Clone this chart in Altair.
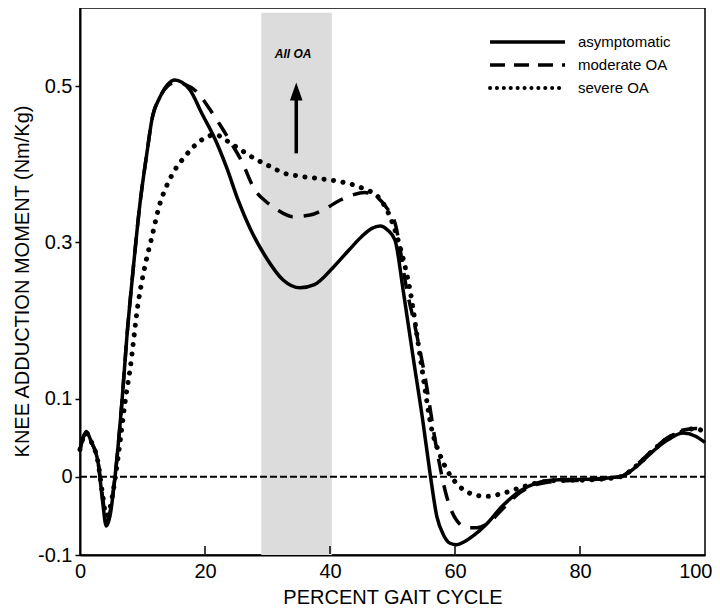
import altair as alt
import pandas as pd

# ---------------- data ----------------
x_asym = [0, 0.5, 1.0, 1.8, 2.9, 3.6, 4.2, 4.8, 5.6, 6.7, 7.5, 8.5, 9.6, 10.7, 11.5, 12.8, 14.0,
          15.2, 16.3, 17.6, 19.5, 21.9, 23.5, 25.3, 27.2, 29.6, 32.5, 35.2, 37.5, 40.5, 43.0, 45.0,
          46.7, 48.0, 49.2, 50.4, 51.7, 53.3, 54.9, 56.0, 57.1, 58.2, 59.2, 60.3, 61.5, 63.0, 65.1,
          67.5, 70.4, 73.0, 75.7, 81.0, 86.4, 89.0, 91.7, 94.0, 96.5, 98.5, 100]
y_asym = [0.035, 0.05, 0.058, 0.045, 0.018, -0.03, -0.063, -0.05, 0.0, 0.095, 0.179, 0.265, 0.35,
          0.414, 0.457, 0.486, 0.502, 0.508, 0.505, 0.495, 0.465, 0.427, 0.395, 0.354, 0.318, 0.283,
          0.252, 0.242, 0.246, 0.268, 0.29, 0.307, 0.318, 0.321, 0.316, 0.303, 0.239, 0.153, 0.069,
          0.005, -0.051, -0.075, -0.085, -0.087, -0.083, -0.075, -0.06, -0.038, -0.018, -0.008,
          -0.004, -0.003, 0.0, 0.013, 0.033, 0.047, 0.056, 0.052, 0.044]

x_mod = [0, 0.5, 1.0, 1.8, 2.9, 3.6, 4.2, 4.8, 5.6, 6.7, 7.5, 8.5, 9.6, 10.7, 11.5, 12.8, 14.0,
         15.4, 16.6, 18.9, 20.8, 22.6, 24.2, 25.8, 28.0, 29.8, 31.5, 34.1, 36.8, 39.0, 41.6, 43.7,
         45.5, 47.5, 49.0, 50.4, 52.3, 53.8, 55.2, 57.1, 58.7, 60.2, 61.9, 63.5, 65.5, 67.5, 70.4,
         73.0, 75.7, 81.0, 86.4, 89.0, 91.7, 94.0, 96.5, 98.5, 100]
y_mod = [0.035, 0.05, 0.057, 0.045, 0.018, -0.025, -0.055, -0.045, 0.0, 0.095, 0.179, 0.265, 0.35,
         0.414, 0.457, 0.486, 0.500, 0.505, 0.503, 0.491, 0.47, 0.448, 0.427, 0.405, 0.367, 0.352,
         0.342, 0.333, 0.335, 0.342, 0.354, 0.361, 0.364, 0.358, 0.345, 0.325, 0.239, 0.185, 0.128,
         0.034, -0.026, -0.055, -0.065, -0.065, -0.058, -0.042, -0.02, -0.01, -0.006, -0.004, 0.0,
         0.015, 0.035, 0.05, 0.06, 0.062, 0.058]

x_sev = [0, 0.5, 1.0, 1.8, 2.9, 3.6, 4.2, 4.8, 5.6, 6.5, 7.2, 8.0, 9.3, 10.4, 11.5, 12.8, 13.9,
         15.2, 16.8, 18.1, 20.3, 21.6, 23.5, 25.8, 28.0, 30.5, 32.5, 35.0, 37.9, 40.0, 42.1, 44.0,
         45.9, 47.2, 48.5, 49.6, 51.0, 52.8, 54.5, 56.3, 57.5, 58.7, 60.2, 62.4, 65.0, 67.7, 70.4,
         73.0, 75.7, 81.0, 86.4, 89.0, 91.7, 94.0, 96.5, 98.5, 100]
y_sev = [0.035, 0.05, 0.056, 0.045, 0.018, -0.022, -0.05, -0.04, -0.003, 0.05, 0.095, 0.137, 0.222,
         0.27, 0.307, 0.35, 0.373, 0.393, 0.41, 0.422, 0.435, 0.438, 0.43, 0.418, 0.407, 0.397,
         0.389, 0.385, 0.382, 0.38, 0.377, 0.373, 0.367, 0.362, 0.35, 0.333, 0.30, 0.239, 0.15,
         0.06, 0.03, 0.009, -0.008, -0.021, -0.025, -0.021, -0.014, -0.008, -0.005, -0.004, 0.0,
         0.014, 0.034, 0.049, 0.058, 0.062, 0.056]

series_names = ["asymptomatic", "moderate OA", "severe OA"]
band_x = [29.0, 40.3]
band_y = [-0.1, 0.594]
arrow_x = 34.6
arrow_y = [0.414, 0.486]
arrow_head_y = 0.493
label_x = 34.1
label_y = 0.541
label_text = "All OA"
x_ticks = [0, 20, 40, 60, 80, 100]
x_inner_ticks = [20, 40, 60, 80]
y_ticks = [-0.1, 0, 0.1, 0.3, 0.5]
zero_line = [0, 100]

FONT = "Liberation Sans"

xscale = alt.Scale(domain=[0, 100], nice=False, zero=False)
yscale = alt.Scale(domain=[-0.1, 0.6], nice=False, zero=False)

x_axis = alt.Axis(values=x_ticks, title="PERCENT GAIT CYCLE", ticks=False, tickSize=0,
                  labelPadding=6, grid=False, format="d", labelFlush=False,
                  labelAlign={"condition": {"test": "datum.value == 100", "value": "right"},
                              "value": "center"},
                  labelOffset={"condition": {"test": "datum.value == 100", "value": 7},
                               "value": 0},
                  titleY=48, titleBaseline="alphabetic", titleFontWeight="normal")
y_axis = alt.Axis(values=y_ticks, title="KNEE ADDUCTION MOMENT (Nm/Kg)", tickSize=5,
                  labelPadding=3, grid=False,
                  labelExpr="datum.value == 0 ? '0' : replace(format(datum.value, '.1f'), '\u2212', '-')",
                  titleX=-58, titleY=273, titleAngle=270, titleAlign="center",
                  titleBaseline="middle", titleFontWeight="normal")

X = alt.X("pct:Q", scale=xscale, axis=x_axis)
Y = alt.Y("moment:Q", scale=yscale, axis=y_axis)

# band
band_df = pd.DataFrame({"pct": [band_x[0]], "pct2": [band_x[1]],
                        "moment": [band_y[0]], "moment2": [band_y[1]]})
band = alt.Chart(band_df).mark_rect(color="#dcdcdc").encode(
    x=X, x2="pct2:Q", y=Y, y2="moment2:Q")

# zero line
zero_df = pd.DataFrame({"pct": zero_line, "moment": [0, 0]})
zero = alt.Chart(zero_df).mark_line(color="black", strokeWidth=2, strokeDash=[7, 3]).encode(x=X, y=Y)

# inward x ticks
tick_df = pd.DataFrame({"pct": x_inner_ticks})
ticks = alt.Chart(tick_df).mark_rule(color="black", strokeWidth=1.5).encode(
    x=X, y=alt.value(546), y2=alt.value(538))

def line(xs, ys, **kw):
    df = pd.DataFrame({"pct": xs, "moment": ys})
    return alt.Chart(df).mark_line(color="black", interpolate="monotone", **kw).encode(x=X, y=Y)

l_asym = line(x_asym, y_asym, strokeWidth=3.5)
l_mod = line(x_mod, y_mod, strokeWidth=3.5, strokeDash=[16, 11])
l_sev = line(x_sev, y_sev, strokeWidth=5, strokeDash=[0.1, 9.5], strokeCap="round")

# arrow + label
shaft_df = pd.DataFrame({"pct": [arrow_x], "moment": [arrow_y[0]], "moment2": [arrow_y[1]]})
shaft = alt.Chart(shaft_df).mark_rule(color="black", strokeWidth=3.5).encode(
    x=X, y=Y, y2="moment2:Q")
head_df = pd.DataFrame({"pct": [arrow_x], "moment": [arrow_head_y]})
head = alt.Chart(head_df).mark_point(shape="M0,-1L0.7,1L-0.7,1Z", filled=True, size=324,
                                     color="black", opacity=1, strokeWidth=0).encode(x=X, y=Y)
lab_df = pd.DataFrame({"pct": [label_x], "moment": [label_y], "t": [label_text]})
lab = alt.Chart(lab_df).mark_text(font=FONT, fontSize=12, fontStyle="italic", fontWeight="bold",
                                  color="black", align="center", baseline="middle").encode(
    x=X, y=Y, text="t:N")

# legend (drawn manually so line styles match)
leg_rows = [34, 57, 80]
leg_styles = [dict(strokeWidth=3.5),
              dict(strokeWidth=3.5, strokeDash=[15, 9]),
              dict(strokeWidth=4, strokeDash=[0.1, 6.8], strokeCap="round")]
leg_layers = []
leg_src = pd.DataFrame({"d": [0]})
for name, yy, st in zip(series_names, leg_rows, leg_styles):
    leg_layers.append(alt.Chart(leg_src).mark_rule(color="black", **st).encode(
        x=alt.value(410), x2=alt.value(485), y=alt.value(yy)))
    leg_layers.append(alt.Chart(leg_src).mark_text(font=FONT, fontSize=15, color="black",
                                                   align="left", baseline="middle").encode(
        x=alt.value(498), y=alt.value(yy), text=alt.value(name)))

chart = alt.layer(band, zero, ticks, l_sev, l_mod, l_asym, shaft, head, lab, *leg_layers).properties(
    width=625, height=547,
    autosize=alt.AutoSizeParams(type="none"),
    padding={"left": 72, "top": 0, "right": 7, "bottom": 52},
).configure_view(
    stroke="black", strokeWidth=1.5
).configure_axis(
    domainColor="black", domainWidth=2, tickColor="black", tickWidth=1.5,
    labelColor="black", titleColor="black", labelFont=FONT, titleFont=FONT,
    labelFontSize=20, titleFontSize=20
)

chart.save("out.html", embed_options={"renderer": "svg", "actions": False})
